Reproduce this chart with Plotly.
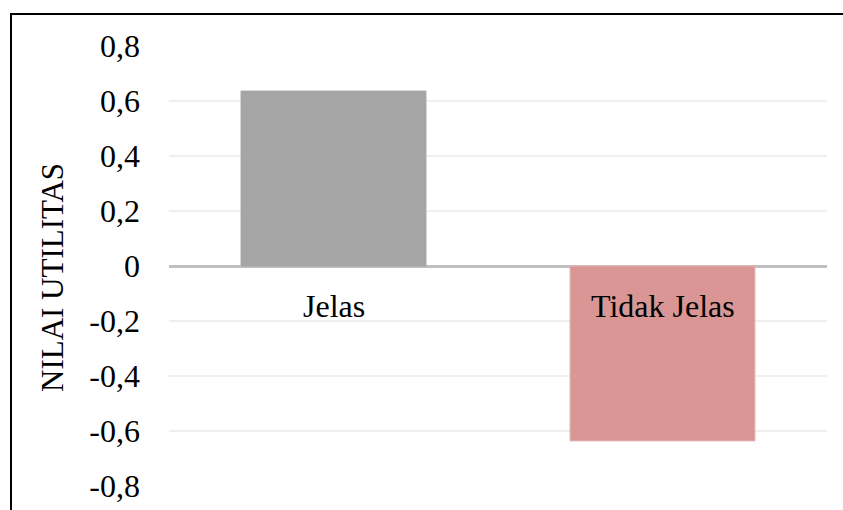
import plotly.graph_objects as go

categories = ["Jelas", "Tidak Jelas"]
values = [0.636, -0.636]
bar_colors = ["#A5A5A5", "#D99694"]
tick_vals = [-0.8, -0.6, -0.4, -0.2, 0, 0.2, 0.4, 0.6, 0.8]
tick_text = ["-0,8", "-0,6", "-0,4", "-0,2", "0", "0,2", "0,4", "0,6", "0,8"]
y_title = "NILAI UTILITAS"

W, H = 843, 510
L, R, T, B = 169, 16, 46, 24
pw, ph = W - L - R, H - T - B

FONT = "Liberation Serif"

fig = go.Figure()
fig.add_trace(go.Bar(
    x=categories, y=values,
    marker=dict(color=bar_colors, line=dict(color=["#A5A5A5", "#E4B3B2"], width=1)),
    width=0.562,
    showlegend=False,
))

annotations = []
for c in categories:
    annotations.append(dict(x=c, y=0, xref="x", yref="y", text=c, showarrow=False,
                            xanchor="center", yanchor="middle", yshift=-40,
                            font=dict(family=FONT, size=32, color="#000000")))
annotations.append(dict(x=(52 - L) / pw, y=(H - B - 278) / ph, xref="paper", yref="paper",
                        text=y_title, textangle=-90, showarrow=False,
                        xanchor="center", yanchor="middle",
                        font=dict(family=FONT, size=31, color="#000000")))

fig.update_layout(
    width=W, height=H,
    margin=dict(l=L, r=R, t=T, b=B, autoexpand=False),
    paper_bgcolor="white", plot_bgcolor="white",
    bargap=0.44,
    font=dict(family=FONT),
    annotations=annotations,
    shapes=[dict(type="rect", xref="paper", yref="paper",
                 x0=(11 - L) / pw, x1=(W + 5 - L) / pw,
                 y0=(H - B - (H + 10)) / ph, y1=(H - B - 14) / ph,
                 line=dict(color="#000000", width=2), layer="above")],
    xaxis=dict(showticklabels=False, showgrid=False, zeroline=False, showline=False,
               range=[-0.5, 1.5], automargin=False),
    yaxis=dict(range=[-0.8, 0.8], tickvals=tick_vals, ticktext=tick_text,
               showgrid=True, gridcolor="#EFEFEF", gridwidth=1.5,
               zeroline=True, zerolinecolor="#BFBFBF", zerolinewidth=2.5,
               showline=False, ticks="", ticklabelstandoff=28, automargin=False,
               tickfont=dict(family=FONT, size=32, color="#000000")),
)

fig.write_html("out.html")
